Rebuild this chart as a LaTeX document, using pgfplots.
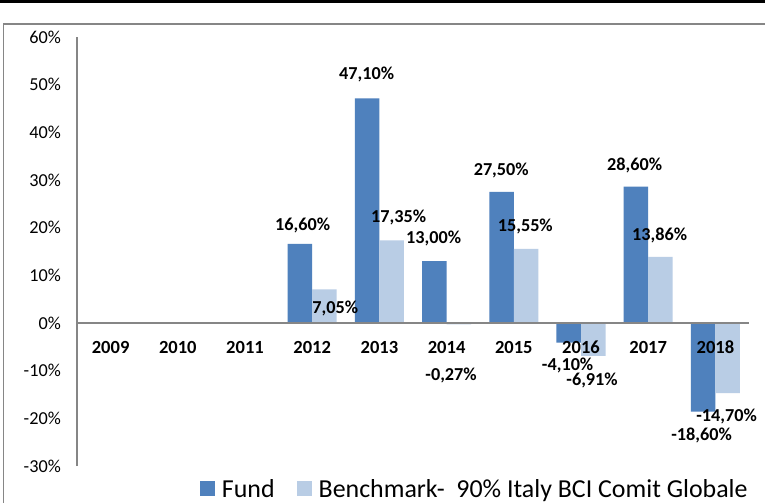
\documentclass[border=0pt]{standalone}
\usepackage{pgfplots}
\pgfplotsset{compat=1.18}
\usepackage{fontspec}
\setmainfont{Carlito}
\definecolor{fund}{RGB}{79,129,189}
\definecolor{bench}{RGB}{185,205,229}
\definecolor{axgray}{RGB}{134,134,134}
\newcommand{\legfont}{\fontsize{26}{28}\selectfont}
\begin{document}
\begin{tikzpicture}
\useasboundingbox (0bp,0bp) rectangle (765bp,503bp);
\fill[white] (0bp,0bp) rectangle (765bp,503bp);
\draw[black, line width=3bp] (0bp,501.5bp) -- (765bp,501.5bp);
\draw[axgray, line width=1.5bp] (3.5bp,0bp) -- (3.5bp,479bp) -- (765bp,479bp);
\begin{axis}[
  at={(77bp,37bp)}, anchor=south west,
  scale only axis, width=672bp, height=429bp,
  xmin=-0.5, xmax=9.5, ymin=-30, ymax=60,
  axis on top,
  axis x line*=middle, axis y line*=left,
  x axis line style={-}, y axis line style={-},
  axis line style={draw=axgray, line width=1.5bp},
  xtick={0,...,9}, xticklabels={2009,2010,2011,2012,2013,2014,2015,2016,2017,2018},
  ytick={-30,-20,...,60},
  yticklabels={-30\%,-20\%,-10\%,0\%,10\%,20\%,30\%,40\%,50\%,60\%},
  major tick length=0pt,
  tick style={draw=none},
  hide obscured x ticks=false, hide obscured y ticks=false,
  xticklabel style={font=\fontsize{18.6}{21}\selectfont\bfseries, inner sep=0pt, anchor=north, yshift=-18bp},
  yticklabel style={font=\fontsize{18.3}{21}\selectfont, inner sep=0pt, anchor=east, xshift=-16bp},
  ybar=0pt, bar width=0.365,
  clip=false,
  legend columns=2,
  legend style={at={(0.183,-0.0536)}, anchor=west, draw=none, fill=none,
    inner sep=0pt, outer sep=0pt,
    nodes={inner sep=0pt, outer sep=0pt},
    /tikz/every even column/.append style={column sep=22bp}},
]
\addplot[fill=fund, draw=none, legend image code/.code={\fill[fund] (0bp,-7.5bp) rectangle (15bp,7.5bp); \path (22bp,0bp);}] coordinates {
  (3,16.60) (4,47.10) (5,13.00) (6,27.50) (7,-4.10) (8,28.60) (9,-18.60)};
\addlegendentry{\legfont Fund}
\addplot[fill=bench, draw=none, legend image code/.code={\fill[bench] (0bp,-7.5bp) rectangle (15bp,7.5bp); \path (22bp,0bp);}] coordinates {
  (3,7.05) (4,17.35) (5,-0.27) (6,15.55) (7,-6.91) (8,13.86) (9,-14.70)};
\addlegendentry{\legfont Benchmark-\ \ 90\% Italy BCI Comit Globale}
\begin{scope}[every node/.style={font=\fontsize{18.3}{21}\selectfont\bfseries, inner sep=0pt}]
\node at (axis cs:2.857,20.4) {16,60\%};
\node at (axis cs:3.810,52.1) {47,10\%};
\node at (axis cs:4.807,17.7) {13,00\%};
\node at (axis cs:5.813,32.0) {27,50\%};
\node at (axis cs:6.801,-8.85) {-4,10\%};
\node at (axis cs:7.798,33.1) {28,60\%};
\node at (axis cs:8.795,-23.6) {-18,60\%};
\node at (axis cs:3.344,3.0) {7,05\%};
\node at (axis cs:4.286,22.2) {17,35\%};
\node at (axis cs:5.067,-11.1) {-0,27\%};
\node at (axis cs:6.171,20.3) {15,55\%};
\node at (axis cs:7.165,-12.15) {-6,91\%};
\node at (axis cs:8.170,18.4) {13,86\%};
\node at (axis cs:9.167,-19.7) {-14,70\%};
\end{scope}
\end{axis}
\end{tikzpicture}
\end{document}
